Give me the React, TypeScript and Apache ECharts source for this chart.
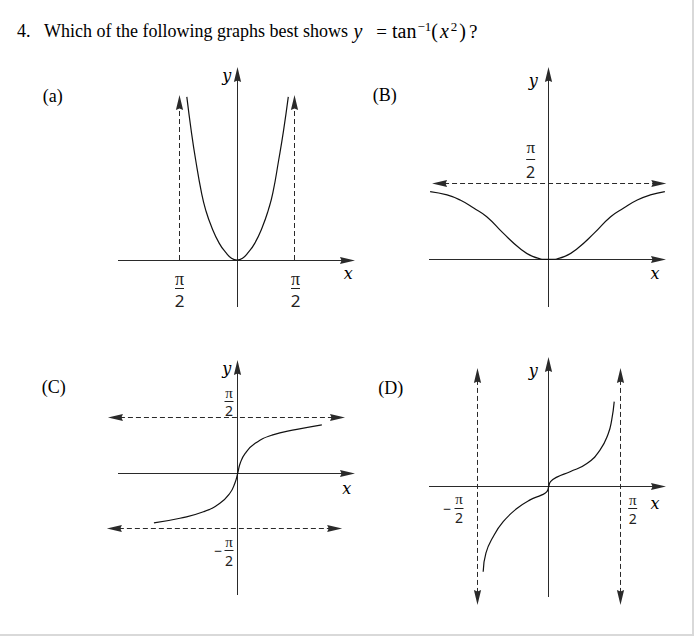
import React, { useEffect, useRef } from "react";
import * as echarts from "echarts";

// ---------- data (axis units; pi/2 = 1.571) ----------
// (a)
const aCurveX = [-1.36, -1.24, -1.12, -0.96, -0.85, -0.69, -0.48, -0.3, -0.15, 0, 0.15, 0.3, 0.48, 0.69, 0.85, 0.97, 1.13, 1.26, 1.39];
const aCurveY = [4.42, 3.5, 2.71, 1.81, 1.36, 0.9, 0.45, 0.2, 0.05, 0, 0.05, 0.2, 0.45, 0.9, 1.36, 1.81, 2.71, 3.5, 4.42];
// [x1, y1, x2, y2, arrowAtStart, arrowAtEnd]
const aAsymptotes = [
  [-1.571, 0, -1.571, 4.47, 0, 1],
  [1.571, 0, 1.571, 4.47, 0, 1],
];
// (B)
const bCurveX = [-2.45, -2.1, -1.83, -1.55, -1.28, -0.94, -0.6, -0.32, 0, 0.32, 0.6, 0.94, 1.28, 1.55, 1.83, 2.1, 2.4];
const bCurveY = [1.4, 1.33, 1.225, 1.06, 0.88, 0.54, 0.23, 0.055, 0, 0.055, 0.23, 0.54, 0.88, 1.06, 1.225, 1.33, 1.4];
const bAsymptotes = [[-2.41, 1.571, 2.43, 1.571, 1, 1]];
// (C)
const cCurveX = [-2.35, -1.62, -0.96, -0.5, -0.22, -0.08, 0, 0.07, 0.21, 0.49, 0.96, 1.66, 2.36];
const cCurveY = [-1.39, -1.26, -1.08, -0.84, -0.56, -0.28, 0, 0.28, 0.56, 0.84, 1.07, 1.23, 1.36];
const cAsymptotes = [
  [-3.64, 1.571, 3.01, 1.571, 1, 1],
  [-3.67, -1.56, 2.93, -1.56, 1, 1],
];
// (D)
const dCurveX = [-1.44, -1.38, -1.22, -1.0, -0.7, -0.41, -0.15, -0.04, 0, 0.04, 0.18, 0.47, 0.84, 1.13, 1.31, 1.385, 1.44];
const dCurveY = [-1.87, -1.46, -1.1, -0.77, -0.48, -0.29, -0.18, -0.11, 0, 0.11, 0.21, 0.33, 0.51, 0.81, 1.17, 1.47, 1.87];
const dAsymptotes = [
  [-1.571, 2.61, -1.571, -2.6, 1, 1],
  [1.571, 2.61, 1.571, -2.6, 1, 1],
];

const TITLE_NUMBER = "4.";
const TITLE_TEXT = "Which of the following graphs best shows ";
const PANEL_NAMES = ["(a)", "(B)", "(C)", "(D)"];

// ---------- layout ----------
const PANELS = [
  { left: 118, top: 67, right: 355, bottom: 307, ox: 237, oy: 260, s: 36.9, curveX: aCurveX, curveY: aCurveY, asym: aAsymptotes },
  { left: 429, top: 67, right: 666, bottom: 307, ox: 548.7, oy: 259.3, s: 48.4, curveX: bCurveX, curveY: bCurveY, asym: bAsymptotes },
  { left: 118, top: 360, right: 355, bottom: 595, ox: 237.7, oy: 473.3, s: 35.65, curveX: cCurveX, curveY: cCurveY, asym: cAsymptotes },
  { left: 429, top: 357, right: 666, bottom: 597, ox: 548.7, oy: 486.7, s: 45.5, curveX: dCurveX, curveY: dCurveY, asym: dAsymptotes },
];

const PANEL_LABEL_POS = [
  [42.7, 96],
  [372.7, 95],
  [41.7, 386.7],
  [378.3, 388.3],
];
const AXIS_LETTERS = [
  { y: [226.7, 75], x: [348.3, 273.3] },
  { y: [533.3, 80], x: [655, 273.3] },
  { y: [226.7, 368.3], x: [346.7, 488.3] },
  { y: [533.3, 370.7], x: [655, 503.3] },
];
// fraction labels: centre x, pi y, bar y, 2 y, font size, minus x
const FRACTIONS = [
  { cx: 179.5, yp: 278.5, yb: 288.5, yd: 300, fs: 17, mx: null as number | null },
  { cx: 295.5, yp: 278.5, yb: 288.5, yd: 300, fs: 17, mx: null },
  { cx: 530.7, yp: 147, yb: 159.5, yd: 171.7, fs: 16, mx: null },
  { cx: 229, yp: 393, yb: 401.5, yd: 410.5, fs: 14, mx: null },
  { cx: 229, yp: 541.5, yb: 550.5, yd: 560, fs: 14, mx: 218.3 },
  { cx: 459, yp: 499, yb: 508.5, yd: 517, fs: 14, mx: 447.3 },
  { cx: 632.7, yp: 500, yb: 508.5, yd: 518.5, fs: 14, mx: null },
];

const INK = "#111";
const AXIS_INK = "#2a2a2a";

function zip(xs: number[], ys: number[]) {
  return xs.map((x, i) => [x, ys[i]]);
}

function makeArrowRender(dashed: boolean, color: string) {
  return (params: any, api: any) => {
    const p1 = api.coord([api.value(0), api.value(1)]);
    const p2 = api.coord([api.value(2), api.value(3)]);
    const a0 = api.value(4);
    const a1 = api.value(5);
    const snap = (v: number) => Math.round(v - 0.5) + 0.5;
    if (Math.abs(p2[0] - p1[0]) < 0.01) {
      p1[0] = p2[0] = snap(p1[0]);
    }
    if (Math.abs(p2[1] - p1[1]) < 0.01) {
      p1[1] = p2[1] = snap(p1[1]);
    }
    const dx = p2[0] - p1[0];
    const dy = p2[1] - p1[1];
    const len = Math.hypot(dx, dy) || 1;
    const ux = dx / len;
    const uy = dy / len;
    const px = -uy;
    const py = ux;
    const L = 15;
    const W = 3.6;
    const s = a0 ? [p1[0] + ux * (L - 3), p1[1] + uy * (L - 3)] : p1;
    const e = a1 ? [p2[0] - ux * (L - 3), p2[1] - uy * (L - 3)] : p2;
    const lineStyle: any = { stroke: color, lineWidth: 1 };
    if (dashed) lineStyle.lineDash = [5, 3];
    const children: any[] = [
      { type: "line", shape: { x1: s[0], y1: s[1], x2: e[0], y2: e[1] }, style: lineStyle },
    ];
    const head = (tip: number[], dirx: number, diry: number) => ({
      type: "polygon",
      shape: {
        points: [
          [tip[0], tip[1]],
          [tip[0] - dirx * L + px * W, tip[1] - diry * L + py * W],
          [tip[0] - dirx * (L - 1.5), tip[1] - diry * (L - 1.5)],
          [tip[0] - dirx * L - px * W, tip[1] - diry * L - py * W],
        ],
      },
      style: { fill: color },
    });
    if (a0) children.push(head(p1, -ux, -uy));
    if (a1) children.push(head(p2, ux, uy));
    return { type: "group", children };
  };
}

function buildOption() {
  const grid: any[] = [];
  const xAxis: any[] = [];
  const yAxis: any[] = [];
  const series: any[] = [];
  PANELS.forEach((p, i) => {
    grid.push({ left: p.left, top: p.top, width: p.right - p.left, height: p.bottom - p.top });
    const xmin = (p.left - p.ox) / p.s;
    const xmax = (p.right - p.ox) / p.s;
    const ymin = (p.oy - p.bottom) / p.s;
    const ymax = (p.oy - p.top) / p.s;
    xAxis.push({ type: "value", gridIndex: i, min: xmin, max: xmax, show: false });
    yAxis.push({ type: "value", gridIndex: i, min: ymin, max: ymax, show: false });
    series.push({
      type: "custom",
      xAxisIndex: i,
      yAxisIndex: i,
      clip: false,
      silent: true,
      renderItem: makeArrowRender(false, AXIS_INK),
      data: [
        [xmin, 0, xmax, 0, 0, 1],
        [0, ymin, 0, ymax, 0, 1],
      ],
    });
    series.push({
      type: "custom",
      xAxisIndex: i,
      yAxisIndex: i,
      clip: false,
      silent: true,
      renderItem: makeArrowRender(true, AXIS_INK),
      data: p.asym,
    });
    series.push({
      type: "line",
      xAxisIndex: i,
      yAxisIndex: i,
      data: zip(p.curveX, p.curveY),
      smooth: 0.5,
      showSymbol: false,
      symbol: "none",
      clip: false,
      silent: true,
      lineStyle: { color: INK, width: 1.2 },
    });
  });

  const graphic: any[] = [];
  const serif = "Liberation Serif";
  graphic.push({
    type: "text",
    x: 17,
    y: 31,
    style: {
      text:
        "{n|" + TITLE_NUMBER + "}{t|" + TITLE_TEXT + "}{i|y}{eq|=}{m|tan}{s|−1}{m|(}{i|x}{s2|2}{m|)}{q|?}",
      fill: "#000",
      fontFamily: serif,
      fontSize: 18,
      verticalAlign: "middle",
      textVerticalAlign: "middle",
      rich: {
        n: { width: 27, fontSize: 18, lineHeight: 22, fontFamily: serif },
        t: { fontSize: 18, lineHeight: 22, fontFamily: serif },
        m: { fontSize: 20, lineHeight: 22, fontFamily: serif, padding: [0, 1, 0, 0] },
        q: { fontSize: 19, lineHeight: 22, fontFamily: serif, padding: [0, 0, 0, 2] },
        i: { fontSize: 20, lineHeight: 22, fontStyle: "italic", fontFamily: serif, padding: [0, 2, 0, 1] },
        eq: { fontSize: 19, lineHeight: 22, fontFamily: serif, padding: [0, 5, 0, 12] },
        s: { fontSize: 13, lineHeight: 18, verticalAlign: "top", fontFamily: serif },
        s2: { fontSize: 13, lineHeight: 18, verticalAlign: "top", fontFamily: serif, padding: [0, 2, 0, 0] },
      },
    },
  });
  PANEL_NAMES.forEach((name, i) => {
    graphic.push({
      type: "text",
      x: PANEL_LABEL_POS[i][0],
      y: PANEL_LABEL_POS[i][1],
      style: {
        text: name,
        fill: "#000",
        fontFamily: serif,
        fontSize: 18,
        align: "left",
        textAlign: "left",
        verticalAlign: "middle",
        textVerticalAlign: "middle",
      },
    });
  });
  AXIS_LETTERS.forEach((a) => {
    (["x", "y"] as const).forEach((k) => {
      graphic.push({
        type: "text",
        x: a[k][0],
        y: a[k][1],
        style: {
          text: k,
          fill: "#000",
          fontFamily: "DejaVu Serif",
          fontStyle: "italic",
          fontSize: 16,
          align: "center",
          textAlign: "center",
          verticalAlign: "middle",
          textVerticalAlign: "middle",
        },
      });
    });
  });
  FRACTIONS.forEach((f) => {
    const txt = (t: string, x: number, y: number, family: string, size: number) => ({
      type: "text",
      x,
      y,
      style: {
        text: t,
        fill: "#222",
        fontFamily: family,
        fontSize: size,
        align: "center",
        textAlign: "center",
        verticalAlign: "middle",
        textVerticalAlign: "middle",
      },
    });
    const half = 4.5;
    graphic.push(txt("π", f.cx, f.yp, serif, f.fs + 1));
    graphic.push({
      type: "line",
      shape: { x1: f.cx - half, y1: f.yb, x2: f.cx + half, y2: f.yb },
      style: { stroke: "#222", lineWidth: 1 },
    });
    graphic.push(txt("2", f.cx, f.yd, "Noto Sans", f.fs));
    if (f.mx != null) graphic.push(txt("−", f.mx, f.yb, "Noto Sans", f.fs));
  });
  // page border (right / bottom)
  graphic.push({ type: "rect", shape: { x: 692, y: 0, width: 2, height: 636 }, style: { fill: "#d9d9d9" } });
  graphic.push({ type: "rect", shape: { x: 0, y: 634, width: 694, height: 2 }, style: { fill: "#d9d9d9" } });

  return {
    animation: false,
    backgroundColor: "#fff",
    grid,
    xAxis,
    yAxis,
    series,
    graphic,
  };
}

export default function App() {
  const ref = useRef<HTMLDivElement>(null);
  useEffect(() => {
    document.body.style.margin = "0";
    if (!ref.current) return;
    const chart = echarts.init(ref.current, undefined, { renderer: "svg" });
    chart.setOption(buildOption() as any);
    return () => chart.dispose();
  }, []);
  return (
    <div
      ref={ref}
      style={{ position: "absolute", left: 0, top: 0, width: 694, height: 636, background: "#fff" }}
    />
  );
}
